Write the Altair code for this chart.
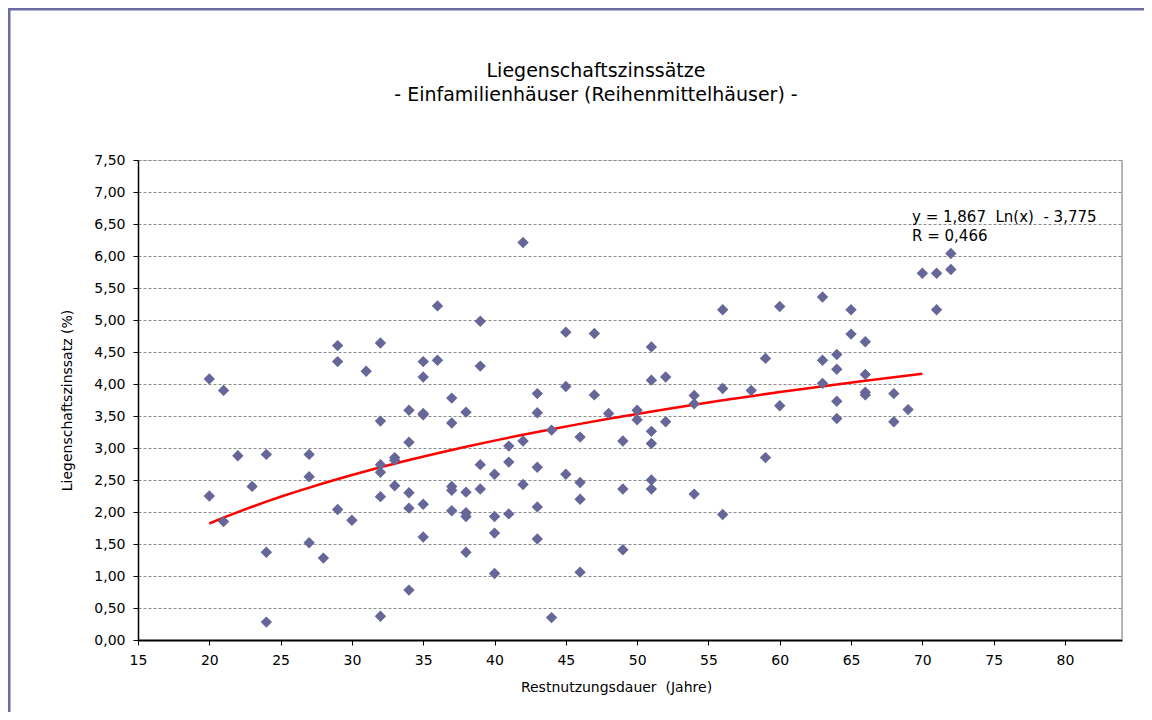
import altair as alt
import pandas as pd

# Restnutzungsdauer (Jahre)
rnd = [20, 20, 21, 21, 22, 23, 24, 24, 24, 27, 27, 27, 28, 29, 29, 29, 30, 31,
       32, 32, 32, 32, 32, 32, 33, 33, 33, 34, 34, 34, 34, 34,
       35, 35, 35, 35, 35, 35, 36, 36, 37, 37, 37, 37, 37, 38, 38, 38, 38, 38,
       39, 39, 39, 39, 40, 40, 40, 40, 41, 41, 41, 42, 42, 42,
       43, 43, 43, 43, 43, 44, 44, 45, 45, 45, 46, 46, 46, 46, 47, 47, 48,
       49, 49, 49, 50, 50, 51, 51, 51, 51, 51, 51, 52, 52, 54, 54, 54,
       56, 56, 56, 58, 59, 59, 60, 60, 63, 63, 63, 64, 64, 64, 64, 65, 65,
       66, 66, 66, 66, 68, 68, 69, 70, 71, 71, 72, 72]
# Liegenschaftszinssatz (%)
lzs = [4.08, 2.25, 3.90, 1.85, 2.88, 2.40, 2.90, 1.37, 0.28, 2.90, 2.55, 1.52, 1.28, 4.60, 4.35, 2.04, 1.87, 4.20,
       4.64, 3.42, 2.74, 2.62, 2.24, 0.37, 2.85, 2.81, 2.41, 3.59, 3.09, 2.30, 2.06, 0.78,
       4.35, 4.11, 3.54, 3.52, 2.12, 1.61, 5.22, 4.37, 3.78, 3.39, 2.40, 2.34, 2.02, 3.56, 2.31, 1.99, 1.93, 1.37,
       4.98, 4.28, 2.74, 2.36, 2.59, 1.93, 1.67, 1.04, 3.03, 2.78, 1.97, 6.21, 3.11, 2.43,
       3.85, 3.55, 2.70, 2.08, 1.58, 3.28, 0.35, 4.81, 3.96, 2.59, 3.17, 2.46, 2.20, 1.06, 4.79, 3.83, 3.54,
       3.11, 2.36, 1.41, 3.59, 3.44, 4.58, 4.06, 3.26, 3.07, 2.50, 2.36, 4.11, 3.41, 3.82, 3.69, 2.28,
       5.16, 3.93, 1.96, 3.90, 4.40, 2.85, 5.21, 3.66, 5.36, 4.37, 4.01, 4.46, 4.23, 3.73, 3.46, 5.16, 4.78,
       4.66, 4.15, 3.87, 3.83, 3.85, 3.41, 3.60, 5.73, 5.73, 5.16, 6.04, 5.79]

x_ticks = [15, 20, 25, 30, 35, 40, 45, 50, 55, 60, 65, 70, 75, 80]
y_max = 7.5
y_tick_count = 15
title_text = "Liegenschaftszinssätze\n- Einfamilienhäuser (Reihenmittelhäuser) -"
NB = "\u00a0"
eq_text = f"y{NB}={NB}1,867{NB}{NB}Ln(x){NB}{NB}-{NB}3,775\nR{NB}={NB}0,466"
x_title = f"Restnutzungsdauer{NB}{NB}(Jahre)"
y_title = "Liegenschaftszinssatz (%)"

FONT = "DejaVu Sans"
df = pd.DataFrame({"x": rnd, "y": lzs})

base = alt.Chart(df)

xenc = alt.X("x:Q", scale=alt.Scale(domain=[15, 84], nice=False, zero=False),
             axis=alt.Axis(values=x_ticks, title=x_title, grid=False,
                           domainColor="black", domainWidth=2, tickColor="black", tickSize=5,
                           labelPadding=8, labelFontSize=14, labelFont=FONT, labelColor="black",
                           titleFont=FONT, titleFontSize=14, titleFontWeight="normal", titleColor="black",
                           titlePadding=13, titleX=478, labelFlush=False, labelOverlap=False))
yenc = alt.Y("y:Q", scale=alt.Scale(domain=[0, y_max], nice=False),
             axis=alt.Axis(tickCount=y_tick_count, title=y_title,
                           labelExpr="replace(format(datum.value, '.2f'), '.', ',')",
                           grid=True, gridColor="#8c8c8c", gridDash=[3, 2], gridWidth=1,
                           domainColor="black", domainWidth=1.5, tickColor="black", tickSize=5,
                           labelPadding=8, labelFontSize=14, labelFont=FONT, labelColor="black",
                           labelOverlap=False, labelFlush=False, labelBound=False,
                           titleFont=FONT, titleFontSize=14, titleFontWeight="normal", titleColor="black",
                           titlePadding=19))

one = pd.DataFrame({"a": [0]})

border = alt.Chart(one).mark_rect(
    fillOpacity=0, stroke="#6b6ba3", strokeWidth=3
).encode(x=alt.value(-129), x2=alt.value(1300), y=alt.value(-151), y2=alt.value(900))

right_edge = alt.Chart(one).mark_rule(color="#a0a0a0", strokeWidth=1.5).encode(
    x=alt.value(984), y=alt.value(0), y2=alt.value(480))

points = base.mark_point(shape="diamond", filled=True, size=130, color="#666699", opacity=1).encode(
    x=xenc, y=yenc)

trend = base.transform_regression("x", "y", method="log", extent=[20, 70]).mark_line(
    color="#ff0000", strokeWidth=2.5).encode(x="x:Q", y="y:Q")

eq = alt.Chart(pd.DataFrame({"t": [eq_text]})).mark_text(
    align="left", baseline="alphabetic", font=FONT, fontSize=15, color="black",
    lineBreak="\n", lineHeight=19
).encode(text="t:N", x=alt.value(774), y=alt.value(62))

title = alt.Chart(pd.DataFrame({"t": [title_text]})).mark_text(
    align="center", baseline="middle", font=FONT, fontSize=19, color="black",
    lineBreak="\n", lineHeight=24
).encode(text="t:N", x=alt.value(458), y=alt.value(-89))

chart = alt.layer(border, right_edge, trend, points, eq, title).properties(
    width=984, height=480,
    autosize=alt.AutoSizeParams(type="none"),
    padding={"left": 130, "top": 152, "right": 22, "bottom": 72},
).configure_view(fill="#ffffcc", stroke=None).configure(background="white")

chart.save("out.html", embed_options={"renderer": "svg", "actions": False})
